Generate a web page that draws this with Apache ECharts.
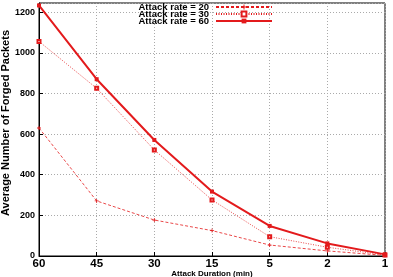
<!DOCTYPE html>
<html><head><meta charset="utf-8">
<script src="https://cdn.jsdelivr.net/npm/echarts@6/dist/echarts.min.js"></script>
<style>html,body{margin:0;padding:0;background:#fff}#c{width:393px;height:277px}</style>
</head><body><div id="c"></div>
<script>
const categories = ['60','45','30','15','5','2','1'];
const rate20 = [630, 271, 177, 125, 54, 25, 3];
const rate30 = [1056, 825, 522, 276, 95, 43, 5];
const rate60 = [1233, 870, 571, 317, 148, 62, 8];
const seriesNames = ['Attack rate = 20','Attack rate = 30','Attack rate = 60'];
const yTitle = 'Average Number of Forged Packets';
const xTitle = 'Attack Duration (min)';

const red = '#e31a1c';
const font = 'Liberation Sans, Arial, sans-serif';
const chart = echarts.init(document.getElementById('c'), null, {renderer:'canvas'});
chart.setOption({
  animation:false,
  backgroundColor:'#fff',
  grid:{left:39,right:8,top:3,bottom:21,show:true,borderColor:'#000',borderWidth:1,containLabel:false,outerBoundsMode:'none'},
  legend:{
    orient:'vertical', right:120, top:2, align:'right', padding:0,
    itemWidth:56, itemHeight:6, itemGap:-3,
    textStyle:{fontFamily:font,fontWeight:'bold',fontSize:9.5,color:'#000',padding:[0,2,0,0]},
    data:seriesNames
  },
  graphic:[
    {type:'text', x:6, y:123, rotation:Math.PI/2,
     style:{text:yTitle, fontFamily:font, fontWeight:'bold', fontSize:11, fill:'#000', textAlign:'center', textVerticalAlign:'middle'}}
  ],
  xAxis:{
    type:'category', data:categories, boundaryGap:false,
    name:xTitle, nameLocation:'middle', nameGap:14, nameMoveOverlap:false,
    nameTextStyle:{fontFamily:font,fontWeight:'bold',fontSize:8,color:'#000'},
    axisLine:{lineStyle:{color:'#000'}},
    axisTick:{inside:true,length:4,lineStyle:{color:'#000'}},
    axisLabel:{fontFamily:font,fontWeight:'bold',fontSize:11.5,color:'#000',margin:2},
    splitLine:{show:true,lineStyle:{color:'#aaa',type:[1,2],width:1}}
  },
  yAxis:{
    type:'value', min:0, max:1245, interval:200,
    axisLine:{show:true,lineStyle:{color:'#000'}},
    axisTick:{show:true,inside:true,length:4,lineStyle:{color:'#000'}},
    axisLabel:{fontFamily:font,fontWeight:'bold',fontSize:9,color:'#000',margin:4,showMaxLabel:false,formatter:function(v){return String(v);}},
    splitLine:{show:true,lineStyle:{color:'#aaa',type:[1,2],width:1}}
  },
  series:[
    {name:seriesNames[0],type:'line',data:rate20,
     symbol:'path://M4,0H6V4H10V6H6V10H4V6H0V4H4Z',symbolSize:4,
     lineStyle:{color:red,width:0.8,type:[3,2]},itemStyle:{color:red}},
    {name:seriesNames[1],type:'line',data:rate30,
     symbol:'emptyRect',symbolSize:3,
     lineStyle:{color:red,width:0.8,type:[1,1.5]},itemStyle:{color:red,borderColor:red,borderWidth:1}},
    {name:seriesNames[2],type:'line',data:rate60,
     symbol:'rect',symbolSize:4,
     lineStyle:{color:red,width:2},itemStyle:{color:red}}
  ]
});
</script></body></html>
